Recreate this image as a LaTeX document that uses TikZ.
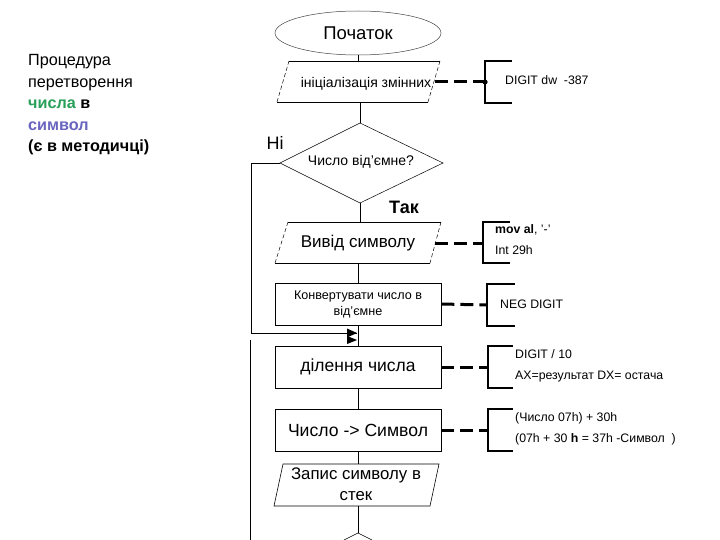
\documentclass[tikz,border=0pt]{standalone}
\usepackage{fontspec}
\setmainfont{Liberation Sans}
\usetikzlibrary{shapes.geometric,arrows.meta}
\definecolor{grn}{RGB}{40,160,90}
\definecolor{prp}{RGB}{105,100,190}
\begin{document}
\begin{tikzpicture}[x=1pt,y=-1pt,
  conn/.style={line width=0.6pt},
  shp/.style={line width=0.6pt},
  sidedash/.style={line width=0.5pt, dash pattern=on 4pt off 2.5pt},
  dconn/.style={line width=3pt, dash pattern=on 13pt off 6pt},
  brk/.style={line width=1.6pt},
  big/.style={font=\fontsize{17}{19}\selectfont, inner sep=0pt},
  mid/.style={font=\fontsize{13}{15}\selectfont, inner sep=0pt},
  note/.style={font=\fontsize{12.3}{21}\selectfont, inner sep=0pt, anchor=west, align=left},
  ttl/.style={font=\fontsize{16.2}{18}\selectfont, inner sep=0pt, anchor=base west},
  rbox/.style={draw, line width=0.6pt, minimum width=166pt, minimum height=42pt, inner sep=0pt, align=center}]
\useasboundingbox (0,0) rectangle (720,540);

% title text
\node[ttl] (t1) at (28,66) {Процедура};
\node[ttl] (t2) at (28,87.5) {перетворення};
\node[ttl] (t3) at (28,109) {\textbf{\color{grn}числа} \textbf{в}};
\node[ttl] (t4) at (28,130.5) {\textbf{\color{prp}символ}};
\node[ttl] (t5) at (28,152) {\textbf{(є в методичці)}};

% start
\node[ellipse, draw=black!75, line width=0.5pt, minimum width=166pt, minimum height=44pt, inner sep=0pt, font=\fontsize{18.5}{20}\selectfont] (start) at (358,33) {Початок};

% init parallelogram
\coordinate (p1a) at (289,61); \coordinate (p1b) at (440,61);
\coordinate (p1c) at (428,102); \coordinate (p1d) at (277,102);
\draw[shp] (p1a) -- (p1b) (p1c) -- (p1d);
\draw[sidedash] (p1b) -- (p1c) (p1d) -- (p1a);
\node[mid, font=\fontsize{14}{15}\selectfont] (init) at (366,84) {ініціалізація змінних};
\draw[conn] (start.south) -- (start.south |- p1a);

% decision
\coordinate (dT) at (360,123); \coordinate (dL) at (280,163);
\coordinate (dR) at (443,163); \coordinate (dB) at (360,203);
\draw[line width=0.5pt] (dT) -- (dR) -- (dB) -- (dL) -- cycle;
\node[mid, font=\fontsize{14}{15}\selectfont] (dec) at (361,162) {Число від’ємне?};
\draw[conn] (dT |- p1c) -- (dT);
\node[font=\fontsize{18}{20}\selectfont, inner sep=0pt] (ni) at (275,143) {Ні};
\node[font=\bfseries\fontsize{18}{20}\selectfont, inner sep=0pt] (tak) at (404,207) {Так};

% output parallelogram
\coordinate (p2a) at (288,222); \coordinate (p2b) at (441,222);
\coordinate (p2c) at (430,263); \coordinate (p2d) at (275,263);
\draw[shp] (p2a) -- (p2b) (p2c) -- (p2d);
\draw[sidedash] (p2b) -- (p2c) (p2d) -- (p2a);
\node[big] (out) at (358,243) {Вивід символу};
\draw[conn] (dB) -- (dB |- p2a);

% convert
\node[rbox, font=\fontsize{12.6}{16}\selectfont] (conv) at (358,304) {Конвертувати число в\\від’ємне};
\draw[conn] (358,263) -- (conv.north);

% divide
\node[rbox, font=\fontsize{17.5}{19}\selectfont] (div) at (358,367) {ділення числа};
\draw[conn] (conv.south) -- (div.north);

% loop
\coordinate (loopend) at (357,333);
\draw[conn] (dL) -- (251,163) |- (loopend);
\fill (347,328.5) -- (357,333) -- (347,337.5) -- cycle;
\fill (347,336) -- (357,340) -- (347,344) -- cycle;

% number -> symbol
\node[rbox, font=\fontsize{17.6}{19}\selectfont] (ns) at (358,430) {Число -> Символ};
\draw[conn] (div.south) -- (ns.north);

% push parallelogram
\coordinate (p3a) at (283,464); \coordinate (p3b) at (439,464);
\coordinate (p3c) at (430,506); \coordinate (p3d) at (274,506);
\draw[shp] (p3a) -- (p3b) -- (p3c) -- (p3d) -- cycle;
\node[big, align=center, font=\fontsize{16.8}{21}\selectfont] (push) at (356,484) {Запис символу в\\стек};
\draw[conn] (ns.south) -- (ns.south |- p3a);

% bottom diamond start
\coordinate (d2T) at (358,533);
\coordinate (d2L) at (344,540); \coordinate (d2R) at (372,540);
\draw[conn] (358,506) -- (d2T);
\draw[line width=0.5pt] (d2L) -- (d2T) -- (d2R);

% left line
\coordinate (lfA) at (250,340); \coordinate (lfB) at (250,540);
\draw[conn] (lfA) -- (lfB);

% annotations
\coordinate (b1) at (485,82);
\draw[brk] (512,61) -- (485,61) -- (485,103) -- (512,103);
\draw[dconn] (435,82) -- (b1);
\fill (b1) circle (2.6pt);
\node[note] (n1) at (505,80) {DIGIT dw \ -387};

\coordinate (b2) at (483,243);
\draw[brk] (510,222) -- (483,222) -- (483,263) -- (510,263);
\draw[dconn] (435,243) -- (b2);
\node[note] (n2) at (495,240) {\textbf{mov al}, '-'\\Int 29h};

\coordinate (b3) at (487,305);
\draw[brk] (515,284) -- (487,284) -- (487,326) -- (515,326);
\draw[dconn] (conv.east) -- (b3);
\node[note] (n3) at (500,304) {NEG DIGIT};

\coordinate (b4) at (488,367);
\draw[brk] (513,346) -- (488,346) -- (488,388) -- (513,388);
\draw[dconn] (div.east) -- (b4);
\node[note] (n4) at (515,366) {DIGIT / 10\\AX=результат DX= остача};

\coordinate (b5) at (488,430);
\draw[brk] (513,409) -- (488,409) -- (488,451) -- (513,451);
\draw[dconn] (ns.east) -- (b5);
\node[note] (n5) at (515,429) {(Число 07h) + 30h\\(07h + 30 \textbf{h} = 37h -Символ \ )};
\end{tikzpicture}
\end{document}
